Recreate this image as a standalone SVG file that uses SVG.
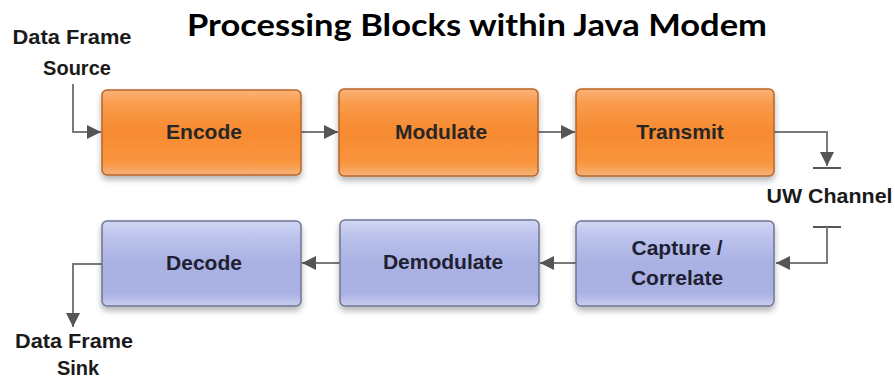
<svg xmlns="http://www.w3.org/2000/svg" width="895" height="382" viewBox="0 0 895 382">
<defs>
<linearGradient id="og" x1="0" y1="0" x2="0" y2="1">
<stop offset="0" stop-color="#fbb277"/>
<stop offset="0.18" stop-color="#f99a4a"/>
<stop offset="0.5" stop-color="#f78a30"/>
<stop offset="0.85" stop-color="#f9953e"/>
<stop offset="1" stop-color="#f6b27a"/>
</linearGradient>
<linearGradient id="bg" x1="0" y1="0" x2="0" y2="1">
<stop offset="0" stop-color="#d2d7f3"/>
<stop offset="0.18" stop-color="#bcc3ec"/>
<stop offset="0.5" stop-color="#a9b1e2"/>
<stop offset="0.85" stop-color="#aab2e3"/>
<stop offset="1" stop-color="#c9cdee"/>
</linearGradient>
<filter id="sh" x="-10%" y="-10%" width="120%" height="130%">
<feGaussianBlur in="SourceAlpha" stdDeviation="3"/>
<feOffset dx="0" dy="4" result="b"/>
<feComponentTransfer><feFuncA type="linear" slope="0.3"/></feComponentTransfer>
<feMerge><feMergeNode/><feMergeNode in="SourceGraphic"/></feMerge>
</filter>
<marker id="ah" viewBox="0 0 10 10" refX="10" refY="5" markerWidth="14" markerHeight="14" markerUnits="userSpaceOnUse" orient="auto">
<path d="M0,0 L10,5 L0,10 Z" fill="#555"/>
</marker>
</defs>
<style>
.o{fill:url(#og);stroke:#b8652a;stroke-width:1.5;filter:url(#sh)}
.b{fill:url(#bg);stroke:#6f7595;stroke-width:1.5;filter:url(#sh)}
.t{font-family:"Liberation Sans",Arial,sans-serif;font-weight:bold;font-size:21px;fill:#262626;text-anchor:middle}
.tb{fill:#1f2033}
.l{font-family:"Liberation Sans",Arial,sans-serif;font-weight:bold;font-size:20px;fill:#1a1a1a;text-anchor:middle}
.c{fill:none;stroke:#7a7a7a;stroke-width:2}
.bar{stroke:#555;stroke-width:2}
</style>
<rect width="895" height="382" fill="#fff"/>
<text x="477" y="36" font-family="Lato,'Open Sans',sans-serif" font-weight="bold" font-size="30" text-anchor="middle" textLength="580" lengthAdjust="spacingAndGlyphs" fill="#000">Processing Blocks within Java Modem</text>
<g id="connectors">
<path class="c" d="M73,84 V132 H101" marker-end="url(#ah)"/>
<path class="c" d="M301,132 H338" marker-end="url(#ah)"/>
<path class="c" d="M538,132 H575" marker-end="url(#ah)"/>
<path class="c" d="M774,132 H827 V166" marker-end="url(#ah)"/>
<line class="bar" x1="813" y1="168" x2="841" y2="168"/>
<line class="bar" x1="813" y1="227" x2="841" y2="227"/>
<path class="c" d="M827,227 V263 H776" marker-end="url(#ah)"/>
<path class="c" d="M576,263 H540" marker-end="url(#ah)"/>
<path class="c" d="M340,263 H302" marker-end="url(#ah)"/>
<path class="c" d="M102,264 H73 V327" marker-end="url(#ah)"/>
</g>
<g id="source"><text class="l" x="72" y="44" textLength="119" lengthAdjust="spacingAndGlyphs">Data Frame</text><text class="l" x="77" y="75">Source</text></g>
<g id="encode"><rect class="o" x="102" y="90" width="199" height="85" rx="5"/><text class="t" x="204" y="139">Encode</text></g>
<g id="modulate"><rect class="o" x="339" y="89" width="199" height="87" rx="5"/><text class="t" x="441" y="139">Modulate</text></g>
<g id="transmit"><rect class="o" x="576" y="89" width="198" height="87" rx="5"/><text class="t" x="680" y="139">Transmit</text></g>
<g id="uwchannel"><text class="l" x="829.5" y="203" font-size="21.5" textLength="126" lengthAdjust="spacingAndGlyphs">UW Channel</text></g>
<g id="capture"><rect class="b" x="576" y="221" width="198" height="85" rx="5"/><text class="t tb" x="677" y="255">Capture /</text><text class="t tb" x="677" y="285">Correlate</text></g>
<g id="demodulate"><rect class="b" x="340" y="220" width="199" height="86" rx="5"/><text class="t tb" x="443" y="269">Demodulate</text></g>
<g id="decode"><rect class="b" x="102" y="221" width="199" height="85" rx="5"/><text class="t tb" x="204" y="270">Decode</text></g>
<g id="sink"><text class="l" x="74" y="348" textLength="118" lengthAdjust="spacingAndGlyphs">Data Frame</text><text class="l" x="78" y="375">Sink</text></g>
</svg>
